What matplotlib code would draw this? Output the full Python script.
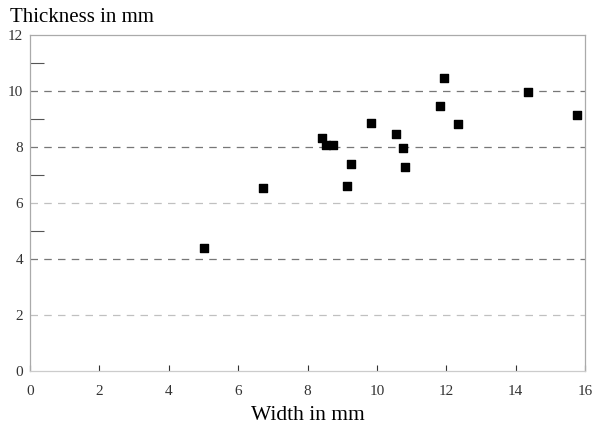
import matplotlib
matplotlib.use("Agg")
import matplotlib.pyplot as plt

width_mm = [5.02, 6.72, 8.43, 8.52, 8.74, 9.14, 9.25, 9.83, 10.55, 10.74,
            10.82, 11.82, 11.94, 12.33, 14.35, 15.76]
thickness_mm = [4.37, 6.52, 8.31, 8.07, 8.07, 6.61, 7.39, 8.86, 8.47, 7.97,
                7.29, 9.45, 10.46, 8.83, 9.95, 9.12]

x_ticks = [0, 2, 4, 6, 8, 10, 12, 14, 16]
y_ticks = [0, 2, 4, 6, 8, 10, 12]
grid_levels = [2, 4, 6, 8, 10]
minor_levels = [5, 7, 9, 11]

plt.rcParams['font.family'] = ['Liberation Serif', 'DejaVu Serif']

fig = plt.figure(figsize=(5.93, 4.26), dpi=100)
ax = fig.add_axes([0.0506, 0.130, 0.936, 0.788])

# dashed reference lines
for lvl in grid_levels:
    col = "#c0c0c0" if lvl in (2, 6) else "#777777"
    ax.axhline(lvl, color=col, lw=0.9, ls=(0, (6, 5)), zorder=1)

ax.scatter(width_mm, thickness_mm, marker="s", s=34, color="black", zorder=3)

ax.set_xlim(0, 16)
ax.set_ylim(0, 12)
ax.set_xticks(x_ticks)
ax.set_yticks(y_ticks)
ax.set_yticks(minor_levels, minor=True)
ax.tick_params(axis="y", which="major", length=0, labelsize=11, pad=5, colors="#333333")
ax.tick_params(axis="y", which="minor", direction="in", length=10, color="#555555", width=0.8)
ax.tick_params(axis="x", which="major", direction="in", length=4, labelsize=11, pad=10,
               colors="#333333")

for side in ["left", "top", "right", "bottom"]:
    ax.spines[side].set_color("#aaaaaa")
    ax.spines[side].set_linewidth(0.9)
ax.spines["bottom"].set_color("#cccccc")

ax.set_xlabel("Width in mm", fontsize=15.5, labelpad=6)
fig.text(0.017, 0.96, "Thickness in mm", fontsize=15, va="center", ha="left")

fig.savefig("out.png", dpi=100)
